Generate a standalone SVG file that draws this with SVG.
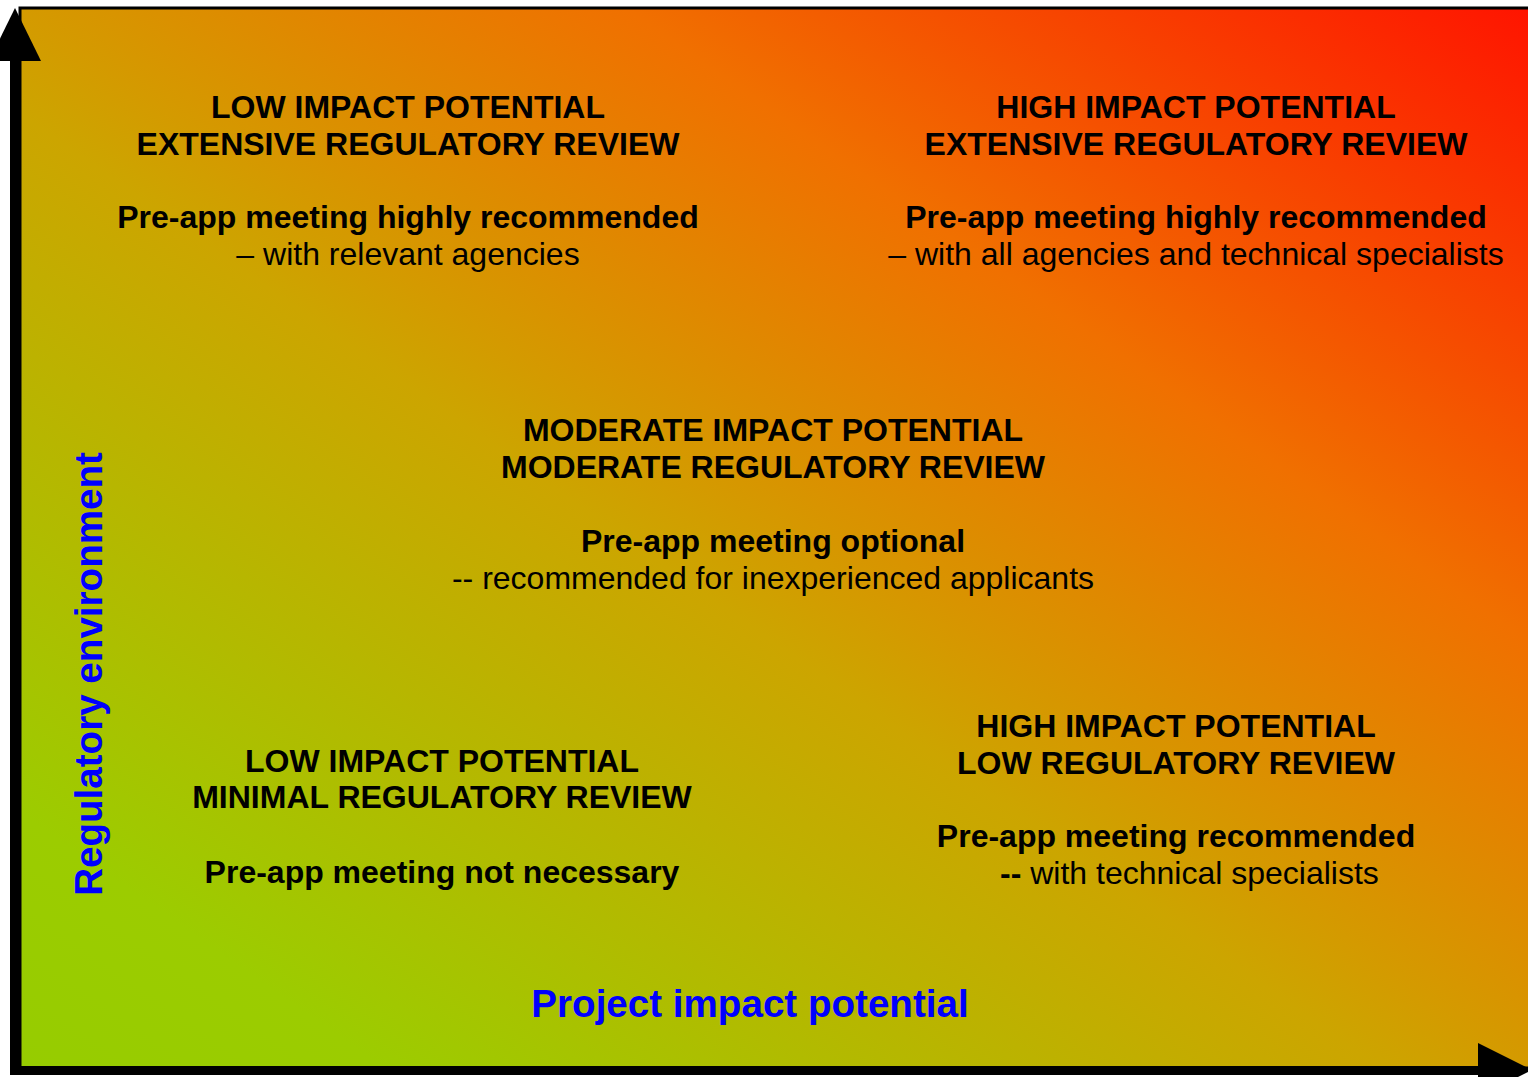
<svg xmlns="http://www.w3.org/2000/svg" width="1528" height="1077" viewBox="0 0 1528 1077">
  <defs>
    <linearGradient id="bg" x1="0" y1="1" x2="1" y2="0">
      <stop offset="0" stop-color="#96CC00"/>
      <stop offset="0.12" stop-color="#9CCC00"/>
      <stop offset="0.45" stop-color="#CCA500"/>
      <stop offset="0.5" stop-color="#D49A00"/>
      <stop offset="0.7" stop-color="#F07000"/>
      <stop offset="1" stop-color="#FF1400"/>
    </linearGradient>
  </defs>
  <style>
    text { font-family: "Liberation Sans", Arial, sans-serif; font-size: 32px; fill: #000; text-anchor: middle; }
    .b { font-weight: bold; }
    .ax { font-weight: bold; font-size: 38.6px; fill: #0000FF; }
  </style>
  <rect id="background" x="20" y="8" width="1512" height="1060" fill="url(#bg)" stroke="#000" stroke-width="3"/>

  <g id="connectors">
    <rect x="10" y="55" width="10" height="1020" fill="#000"/>
    <polygon points="15,8 41,61 -11,61" fill="#000"/>
    <rect x="13" y="1066" width="1470" height="9" fill="#000"/>
    <polygon points="1478,1043 1532,1070 1478,1097" fill="#000"/>
  </g>

  <g id="node-low-extensive">
    <text class="b" x="408" y="118">LOW IMPACT POTENTIAL</text>
    <text class="b" x="408" y="155">EXTENSIVE REGULATORY REVIEW</text>
    <text class="b" x="408" y="228">Pre-app meeting highly recommended</text>
    <text x="408" y="265">– with relevant agencies</text>
  </g>

  <g id="node-high-extensive">
    <text class="b" x="1196" y="118">HIGH IMPACT POTENTIAL</text>
    <text class="b" x="1196" y="155">EXTENSIVE REGULATORY REVIEW</text>
    <text class="b" x="1196" y="228">Pre-app meeting highly recommended</text>
    <text x="1196" y="265">– with all agencies and technical specialists</text>
  </g>

  <g id="node-moderate">
    <text class="b" x="773" y="441">MODERATE IMPACT POTENTIAL</text>
    <text class="b" x="773" y="478">MODERATE REGULATORY REVIEW</text>
    <text class="b" x="773" y="552">Pre-app meeting optional</text>
    <text x="773" y="589">-- recommended for inexperienced applicants</text>
  </g>

  <g id="node-low-minimal">
    <text class="b" x="442" y="772">LOW IMPACT POTENTIAL</text>
    <text class="b" x="442" y="808">MINIMAL REGULATORY REVIEW</text>
    <text class="b" x="442" y="883">Pre-app meeting not necessary</text>
  </g>

  <g id="node-high-low">
    <text class="b" x="1176" y="737">HIGH IMPACT POTENTIAL</text>
    <text class="b" x="1176" y="774">LOW REGULATORY REVIEW</text>
    <text class="b" x="1176" y="847">Pre-app meeting recommended</text>
    <text x="1000" y="884" style="text-anchor:start"><tspan class="b">--</tspan> with technical specialists</text>
  </g>

  <g id="axis-labels">
    <text class="ax" x="750" y="1017">Project impact potential</text>
    <text class="ax" transform="translate(102,674) rotate(-90)">Regulatory environment</text>
  </g>
</svg>
